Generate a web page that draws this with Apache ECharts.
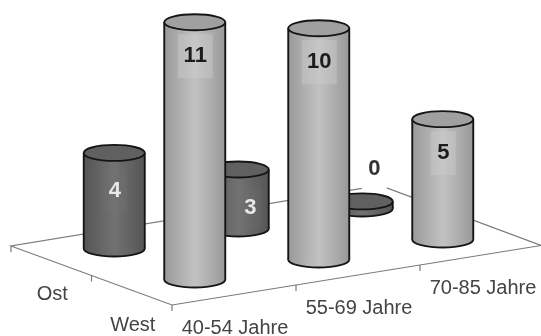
<!DOCTYPE html>
<html><head><meta charset="utf-8">
<style>html,body{margin:0;padding:0;background:#fff}#c{width:541px;height:336px;filter:blur(0.6px)}</style>
<script src="https://cdn.jsdelivr.net/npm/echarts@6/dist/echarts.min.js"></script>
</head><body><div id="c"></div>
<script>
const categories = ['40-54 Jahre', '55-69 Jahre', '70-85 Jahre'];
const rows = ['Ost', 'West'];
// plotted heights; the printed labels are these values rounded
const ost = [4.05, 2.5, 0.3];
const west = [10.9, 9.8, 5.1];

const FONT = '"Liberation Sans", Arial, sans-serif';
const SLOPE = -20 / 124, DEPTH_X = -161, DEPTH_Y = -62, RIGHT = 541;
const RX = 30.5, RY = 8;

const chart = echarts.init(document.getElementById('c'), null, {renderer: 'canvas'});

function floorItem(params, api) {
  const cs = params.coordSys, x0 = cs.x, y0 = cs.y + cs.height, step = cs.width / categories.length;
  const line = (a, b, c, d, w) => ({type: 'line', shape: {x1: a, y1: b, x2: c, y2: d}, style: {stroke: '#7a7a7a', lineWidth: w || 1.2}});
  const yAt = x => y0 + SLOPE * (x - x0);
  const left = [x0 + DEPTH_X, y0 + DEPTH_Y + 3];
  const right = [RIGHT, yAt(RIGHT)];
  const back = [right[0] + DEPTH_X, right[1] + DEPTH_Y + 2];
  const kids = [
    {type: 'polygon', shape: {points: [left, [x0, y0], right, back]}, style: {fill: '#fff', stroke: '#7a7a7a', lineWidth: 1.2}}
  ];
  categories.forEach((c, i) => {
    const x = x0 + i * step;
    kids.push(line(x, yAt(x), x, yAt(x) + 6));
    const cx = x0 + (i + 0.5) * step + 1;
    kids.push({type: 'text', style: {text: c, x: cx, y: yAt(cx) + 34, align: 'center', verticalAlign: 'middle', font: '20px ' + FONT, fill: '#444'}});
  });
  rows.forEach((r, j) => {
    const t = 1 - j / rows.length;
    const tm = t - 0.25;
    kids.push(line(x0 + t * DEPTH_X, y0 + t * (DEPTH_Y + 3), x0 + t * DEPTH_X, y0 + t * (DEPTH_Y + 3) + 6));
    kids.push({type: 'text', style: {text: r, x: x0 + tm * DEPTH_X + 1, y: y0 + tm * DEPTH_Y + 36, align: 'center', verticalAlign: 'middle', font: '20px ' + FONT, fill: '#444'}});
  });
  return {type: 'group', children: kids};
}

function cylinderItem(depth, edge, mid, top, textColor, labelBg) {
  return function (params, api) {
    const i = api.value(0), v = api.value(1);
    const cs = params.coordSys, y0 = cs.y + cs.height;
    const px = api.coord([i, 0])[0];
    const cx = px + 1 + depth * DEPTH_X;
    const base = y0 + SLOPE * (px - cs.x) + depth * DEPTH_Y;
    const tip = base - api.size([0, v])[1];
    const grad = new echarts.graphic.LinearGradient(0, 0, 1, 0, [
      {offset: 0, color: edge}, {offset: 0.5, color: mid}, {offset: 1, color: edge}]);
    const outline = {stroke: '#151515', lineWidth: 1.9};
    const kids = [
      {type: 'ellipse', shape: {cx, cy: base, rx: RX, ry: RY}, style: {fill: grad, ...outline}},
      {type: 'rect', shape: {x: cx - RX, y: tip, width: RX * 2, height: base - tip}, style: {fill: grad}},
      {type: 'line', shape: {x1: cx - RX, y1: tip, x2: cx - RX, y2: base}, style: outline},
      {type: 'line', shape: {x1: cx + RX, y1: tip, x2: cx + RX, y2: base}, style: outline},
      {type: 'ellipse', shape: {cx, cy: tip, rx: RX, ry: RY}, style: {fill: top, ...outline}}
    ];
    const txt = String(Math.round(v));
    const low = v < 1;
    const backRow = depth > 0.5;
    const lx = cx + (low ? 12 : backRow && i === 1 ? 12 : 0.5);
    const ly = low ? tip - 32 : backRow ? tip + 38 : tip + 34;
    const bw = txt.length > 1 ? 35 : 25, bh = 44;
    kids.push({type: 'rect', shape: {x: lx - bw / 2, y: ly - bh / 2, width: bw, height: bh},
      style: {fill: low ? '#fff' : labelBg}});
    kids.push({type: 'text', style: {text: txt, x: lx, y: ly, align: 'center', verticalAlign: 'middle',
      font: 'bold 22px ' + FONT, fill: low ? '#333' : textColor}});
    return {type: 'group', children: kids};
  };
}

chart.setOption({
  animation: false,
  backgroundColor: '#fff',
  grid: {left: 172, width: 372, top: 305 - 23.6 * 12, height: 23.6 * 12, outerBoundsMode: 'none'},
  xAxis: {type: 'category', data: categories, show: false},
  yAxis: {type: 'value', min: 0, max: 12, show: false},
  series: [
    {type: 'custom', name: 'floor', z: 1, clip: false, silent: true, data: [[0, 0]], renderItem: floorItem},
    {type: 'custom', name: rows[0], z: 2, clip: false, data: ost.map((v, i) => [i, v]),
      renderItem: cylinderItem(0.75, '#555555', '#727272', '#606060', '#e8e8e8', 'rgba(120,120,120,0.12)')},
    {type: 'custom', name: rows[1], z: 3, clip: false, data: west.map((v, i) => [i, v]),
      renderItem: cylinderItem(0.25, '#999999', '#c2c2c2', '#a0a0a0', '#1c1c1c', 'rgba(205,205,205,0.45)')}
  ]
});
</script></body></html>
